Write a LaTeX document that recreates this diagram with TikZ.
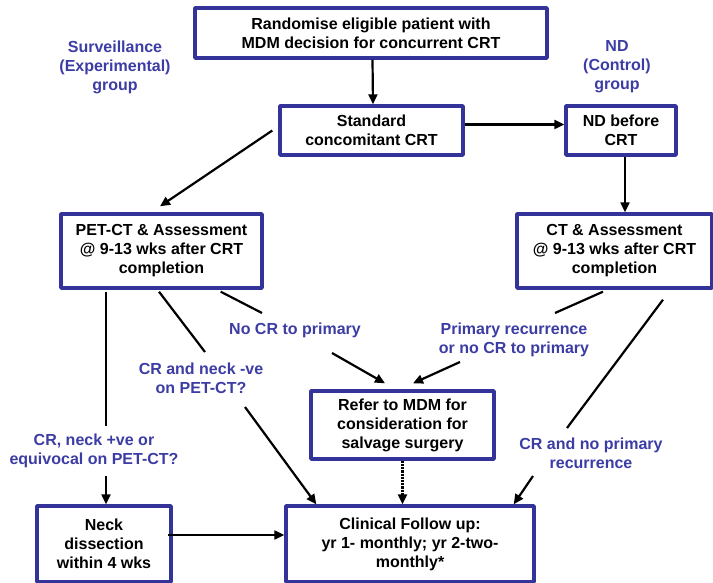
\documentclass[tikz,border=0pt]{standalone}
\usepackage{fontspec}
\setmainfont{Liberation Sans}
\usetikzlibrary{arrows.meta}
\definecolor{boxblue}{RGB}{51,51,153}
\definecolor{txtblue}{RGB}{60,60,165}
\begin{document}
\begin{tikzpicture}[x=1pt, y=-1pt, line join=round, font=\fontsize{16}{19}\selectfont\bfseries,
	box/.style={draw=boxblue, line width=3.4pt, align=center, inner sep=0pt},
	lbl/.style={text=txtblue, align=center, inner sep=0pt},
	ln/.style={line width=2.2pt},
	arr/.style={ln, -{Triangle[length=10pt,width=9pt]}}]
	\useasboundingbox (0,0) rectangle (713,583);
	% boxes
	\node[box, minimum width=352, minimum height=50] (rand) at (371,33) {Randomise eligible patient with\\MDM decision for concurrent CRT};
	\node[box, minimum width=183, minimum height=49] (std) at (371.5,130.5) {Standard\\concomitant CRT};
	\node[box, minimum width=110, minimum height=49] (ndb) at (621,130.5) {ND before\\CRT};
	\node[box, minimum width=201, minimum height=74] (pet) at (161.5,251) {PET-CT \& Assessment\\@ 9-13 wks after CRT\\completion};
	\node[box, minimum width=195, minimum height=74] (ct) at (614.5,251) {CT \& Assessment\\@ 9-13 wks after CRT\\completion};
	\node[box, minimum width=183, minimum height=68] (refer) at (402.5,425) {Refer to MDM for\\consideration for\\salvage surgery};
	\node[box, minimum width=134, minimum height=76] (neck) at (104,544) {Neck\\dissection\\within 4 wks};
	\node[box, minimum width=248, minimum height=76] (clin) at (410,544) {Clinical Follow up:\\yr 1- monthly; yr 2-two-\\monthly*};
	% labels
	\node[lbl] (surv) at (115,67) {Surveillance\\(Experimental)\\group};
	\node[lbl] (ctrl) at (617,67) {ND\\(Control)\\group};
	\node[lbl] (lnocr) at (295,330) {No CR to primary};
	\node[lbl] (lprim) at (514,340) {Primary recurrence\\or no CR to primary};
	\node[lbl] (lneg) at (201,378) {CR and neck -ve\\on PET-CT?};
	\node[lbl] (lpos) at (94,451) {CR, neck +ve or\\equivocal on PET-CT?};
	\node[lbl] (lnorec) at (591,453) {CR and no primary\\recurrence};
	% line ends at the labels
	\coordinate (vx) at (106,0);
	\coordinate (g1) at (205,352);
	\coordinate (g2) at (245,407);
	\coordinate (g3) at (262,313);
	\coordinate (g4) at (332,353);
	\coordinate (g5) at (555,313);
	\coordinate (g6) at (460,362);
	\coordinate (g7) at (567,428);
	\coordinate (g8) at (533,476);
	% connectors
	\draw[arr] ([xshift=1.5pt]rand.south) -- ([xshift=1.5pt]std.north);
	\draw[arr] ([yshift=6pt]std.east) -- ([yshift=6pt]ndb.west);
	\draw[arr] ([xshift=-6pt]std.west) -- ([xshift=-1.5pt,yshift=6pt]pet.north);
	\draw[arr] ([xshift=4pt]ndb.south) -- ([xshift=10.5pt]ct.north);
	\draw[ln] ([yshift=-2pt]pet.south -| vx) -- ([yshift=8pt]lpos.north -| vx);
	\draw[arr] ([yshift=-8pt]lpos.south -| vx) -- (neck.north -| vx);
	\draw[ln] ([xshift=-2.5pt,yshift=-2pt]pet.south) -- (g1);
	\draw[arr] (g2) -- ([xshift=32pt]clin.north west);
	\draw[ln] ([xshift=-43pt,yshift=-2pt]pet.south east) -- (g3);
	\draw[arr] (g4) -- ([xshift=-17.5pt,yshift=6pt]refer.north);
	\draw[ln] ([xshift=-11.5pt,yshift=-2pt]ct.south) -- (g5);
	\draw[arr] (g6) -- ([xshift=10.5pt,yshift=6pt]refer.north);
	\draw[ln] ([xshift=48.5pt,yshift=-10pt]ct.south) -- (g7);
	\draw[arr] (g8) -- ([xshift=-22pt]clin.north east);
	\draw[arr, densely dotted, line width=2.8pt] (refer.south) -- (refer.south |- clin.north);
	\draw[arr] ([yshift=9pt,xshift=-5pt]neck.east) -- ([yshift=9pt]clin.west);
\end{tikzpicture}
\end{document}
